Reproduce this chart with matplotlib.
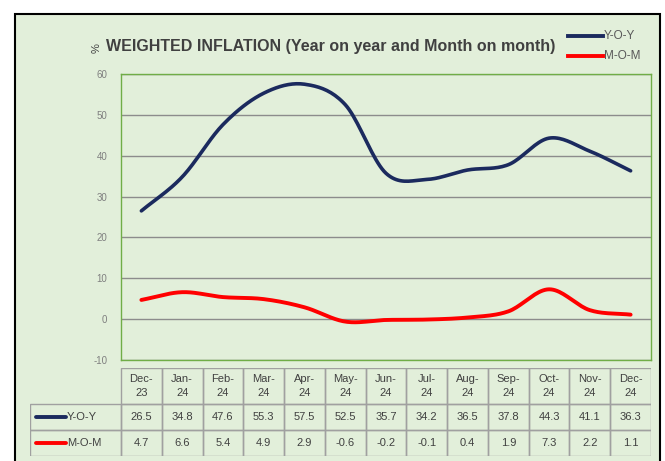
import numpy as np
import matplotlib.pyplot as plt
from matplotlib.patches import Rectangle
from matplotlib.lines import Line2D

months = ['Dec-\n23', 'Jan-\n24', 'Feb-\n24', 'Mar-\n24', 'Apr-\n24', 'May-\n24', 'Jun-\n24',
          'Jul-\n24', 'Aug-\n24', 'Sep-\n24', 'Oct-\n24', 'Nov-\n24', 'Dec-\n24']
yoy = [26.5, 34.8, 47.6, 55.3, 57.5, 52.5, 35.7, 34.2, 36.5, 37.8, 44.3, 41.1, 36.3]
mom = [4.7, 6.6, 5.4, 4.9, 2.9, -0.6, -0.2, -0.1, 0.4, 1.9, 7.3, 2.2, 1.1]
series_names = ['Y-O-Y', 'M-O-M']
yticks = [-10, 0, 10, 20, 30, 40, 50, 60]

navy = '#1b2a5e'
red = '#ff0000'
bg = '#e2efda'
grid_c = '#8c8c8c'
txt = '#404040'

plt.rcParams['font.family'] = ['Liberation Sans Narrow', 'Liberation Sans', 'DejaVu Sans']

W, H = 665, 461
fig = plt.figure(figsize=(W / 100, H / 100), dpi=100)
fig.patch.set_facecolor('white')


def box(x0, y0, x1, y1):
    # pixel box (top-left origin) -> figure fraction rect
    return [x0 / W, 1 - y1 / H, (x1 - x0) / W, (y1 - y0) / H]


# green panel with black border
fig.patches.append(Rectangle((15 / W, -0.01), 645 / W, 1.01 - 14 / H, transform=fig.transFigure,
                             facecolor=bg, edgecolor='black', linewidth=1.5, zorder=-5))


def smooth(y, n=20):
    # Catmull-Rom style smoothing like Excel's smoothed line
    y = np.asarray(y, float)
    x = np.arange(len(y), dtype=float)
    p = np.concatenate([[2 * y[0] - y[1]], y, [2 * y[-1] - y[-2]]])
    xs, ys = [], []
    for i in range(len(y) - 1):
        p0, p1, p2, p3 = p[i], p[i + 1], p[i + 2], p[i + 3]
        t = np.linspace(0, 1, n, endpoint=False)
        v = 0.5 * (2 * p1 + (-p0 + p2) * t + (2 * p0 - 5 * p1 + 4 * p2 - p3) * t ** 2
                   + (-p0 + 3 * p1 - 3 * p2 + p3) * t ** 3)
        xs.append(x[i] + t)
        ys.append(v)
    xs.append([x[-1]])
    ys.append([y[-1]])
    return np.concatenate(xs), np.concatenate(ys)


ax = fig.add_axes(box(121, 74, 651, 360))
ax.set_facecolor(bg)
ax.set_xlim(-0.5, len(months) - 0.5)
ax.set_ylim(-10, 60)
ax.set_yticks(yticks)
ax.set_yticklabels([str(v) for v in yticks], fontsize=7, color='#7f7f7f')
ax.set_xticks([])
ax.tick_params(axis='y', length=0, pad=10)
ax.grid(axis='y', color=grid_c, linewidth=1)
ax.set_axisbelow(True)
for s in ax.spines.values():
    s.set_color('#70ad47')
    s.set_linewidth(1)

sx, sy = smooth(yoy)
ax.plot(sx, sy, color=navy, linewidth=2.6, solid_capstyle='round')
sx, sy = smooth(mom)
ax.plot(sx, sy, color=red, linewidth=2.8, solid_capstyle='round')

# title
fig.text(106 / W, 1 - 46 / H, 'WEIGHTED INFLATION (Year on year and Month on month)',
         fontsize=11.5, fontweight='bold', color=txt, va='center', ha='left')
fig.text(97 / W, 1 - 48 / H, '%', fontsize=8, color=txt, rotation=90, va='center', ha='center')

# legend
for i, (name, col) in enumerate(zip(series_names, [navy, red])):
    yy = 1 - (36 + i * 20) / H
    fig.lines.append(Line2D([568 / W, 603 / W], [yy, yy], transform=fig.transFigure,
                            color=col, linewidth=2.8))
    fig.text(604 / W, yy, name, fontsize=8.5, color='#595959', va='center', ha='left')

# data table
tax = fig.add_axes(box(30, 368, 651, 456))
tax.set_xlim(0, 621)
tax.set_ylim(88, 0)
tax.axis('off')
col0 = 91
cw = (621 - col0) / len(months)
rows = [0, 36, 62, 88]
lc = '#a0a0a0'
# header
for j, m in enumerate(months):
    x0 = col0 + j * cw
    tax.add_patch(Rectangle((x0, rows[0]), cw, rows[1] - rows[0], fill=False, edgecolor=lc, linewidth=1))
    tax.text(x0 + cw / 2, (rows[0] + rows[1]) / 2, m, fontsize=8, color=txt,
             ha='center', va='center', linespacing=1.5)
for r, (name, vals, col) in enumerate(zip(series_names, [yoy, mom], [navy, red])):
    y0, y1 = rows[r + 1], rows[r + 2]
    ym = (y0 + y1) / 2
    tax.add_patch(Rectangle((0, y0), col0, y1 - y0, fill=False, edgecolor=lc, linewidth=1))
    tax.plot([6, 36], [ym, ym], color=col, linewidth=2.8, solid_capstyle='round')
    tax.text(37, ym, name, fontsize=8, color=txt, ha='left', va='center')
    for j, v in enumerate(vals):
        x0 = col0 + j * cw
        tax.add_patch(Rectangle((x0, y0), cw, y1 - y0, fill=False, edgecolor=lc, linewidth=1))
        tax.text(x0 + cw / 2, ym, f'{v:.1f}', fontsize=8, color=txt, ha='center', va='center')

fig.savefig('out.png', dpi=100, facecolor='white')
